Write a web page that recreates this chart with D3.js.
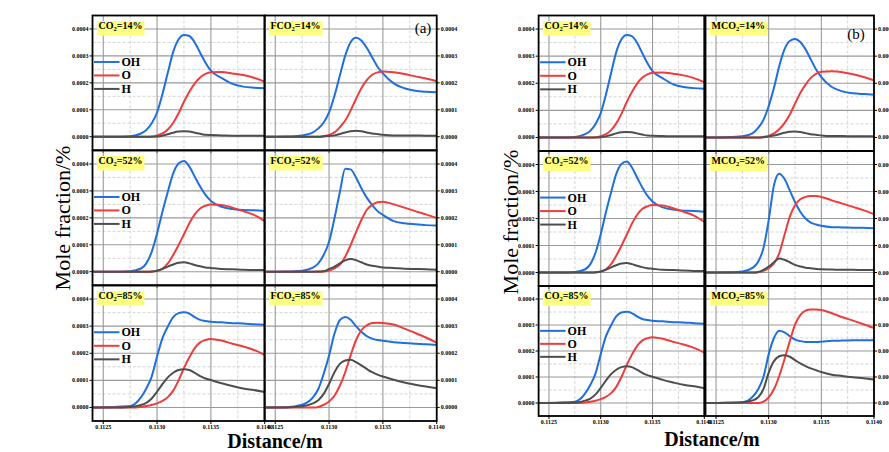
<!DOCTYPE html>
<html>
<head>
<meta charset="utf-8">
<script src="https://cdn.jsdelivr.net/npm/d3@7"></script>
<style>
  body { margin: 0; background: #fff; }
  svg { display: block; }
</style>
</head>
<body>
<svg id="chart" width="889" height="452"></svg>
<script>
(function () {

	// shared distance grid (m)
	var distance = [0.11240, 0.11260, 0.11275, 0.11285, 0.11290, 0.11295, 0.11300, 0.11305, 0.11310, 0.11315, 0.11320,
		0.11325, 0.11330, 0.11335, 0.11340, 0.11345, 0.11350, 0.11360, 0.11370, 0.11380, 0.11390, 0.11400];

	var species = ["OH", "O", "H"];
	var concentrations = ["14%", "52%", "85%"];
	var xTicks = [0.1125, 0.1130, 0.1135, 0.1140];
	var yTicks = [0.0000, 0.0001, 0.0002, 0.0003, 0.0004];

	// CO2 dilution
	var co2_14_OH = [0, 0, .000002, .000012, .000025, .000050, .000090, .000158, .000238, .000315, .000362, .000378, .000374, .000350, .000312, .000275, .000245, .000218, .000196, .000186, .000182, .000180];
	var co2_14_O  = [0, 0, 0, 0, 0, .000001, .000005, .000012, .000027, .000052, .000087, .000130, .000167, .000198, .000220, .000233, .000239, .000240, .000235, .000229, .000219, .000204];
	var co2_14_H  = [0, 0, 0, 0, 0, 0, .000001, .000004, .000009, .000015, .000019, .000020, .000019, .000015, .000011, .000007, .000006, .000005, .000004, .000004, .000004, .000004];

	var co2_52_OH = [0, 0, .000002, .000012, .000031, .000074, .000142, .000223, .000297, .000365, .000402, .000411, .000390, .000353, .000316, .000285, .000263, .000241, .000233, .000229, .000228, .000225];
	var co2_52_O  = [0, 0, 0, 0, 0, 0, .000004, .000012, .000031, .000062, .000099, .000139, .000180, .000213, .000235, .000245, .000250, .000248, .000238, .000225, .000211, .000188];
	var co2_52_H  = [0, 0, 0, 0, 0, .000001, .000004, .000010, .000019, .000027, .000033, .000035, .000031, .000025, .000020, .000016, .000014, .000010, .000009, .000007, .000006, .000006];

	var co2_85_OH = [0, .000002, .000005, .000037, .000070, .000114, .000188, .000256, .000299, .000333, .000348, .000351, .000346, .000333, .000323, .000319, .000316, .000314, .000311, .000310, .000307, .000305];
	var co2_85_O  = [0, 0, 0, .000002, .000005, .000009, .000015, .000024, .000038, .000062, .000100, .000145, .000185, .000219, .000240, .000249, .000253, .000247, .000235, .000225, .000212, .000194];
	var co2_85_H  = [0, 0, .000002, .000009, .000017, .000033, .000058, .000086, .000111, .000128, .000138, .000141, .000138, .000128, .000116, .000107, .000101, .000089, .000079, .000070, .000064, .000057];

	// FCO2 dilution
	var fco2_14_OH = [0, .000001, .000005, .000016, .000031, .000053, .000090, .000152, .000227, .000301, .000351, .000367, .000357, .000330, .000295, .000260, .000235, .000198, .000180, .000171, .000167, .000165];
	var fco2_14_O  = [0, 0, 0, 0, 0, .000003, .000007, .000016, .000035, .000060, .000097, .000140, .000180, .000210, .000230, .000239, .000242, .000239, .000233, .000224, .000216, .000206];
	var fco2_14_H  = [0, 0, 0, 0, 0, .000001, .000003, .000005, .000010, .000016, .000020, .000022, .000020, .000016, .000012, .000010, .000007, .000005, .000005, .000005, .000004, .000004];

	var fco2_52_OH = [0, .000001, .000004, .000015, .000031, .000062, .000111, .000198, .000295, .000382, .000380, .000350, .000310, .000275, .000248, .000225, .000211, .000188, .000180, .000176, .000173, .000172];
	var fco2_52_O  = [0, 0, 0, 0, 0, .000001, .000004, .000012, .000027, .000056, .000099, .000146, .000192, .000229, .000248, .000258, .000260, .000250, .000238, .000225, .000213, .000200];
	var fco2_52_H  = [0, 0, 0, 0, .000001, .000002, .000010, .000019, .000031, .000042, .000047, .000043, .000035, .000027, .000022, .000019, .000016, .000014, .000011, .000010, .000009, .000007];

	var fco2_85_OH = [0, .000001, .000010, .000037, .000068, .000124, .000192, .000272, .000322, .000334, .000324, .000300, .000279, .000263, .000254, .000249, .000246, .000241, .000238, .000235, .000233, .000230];
	var fco2_85_O  = [0, 0, 0, 0, .000002, .000010, .000022, .000043, .000080, .000130, .000192, .000248, .000285, .000303, .000312, .000313, .000312, .000306, .000291, .000275, .000258, .000239];
	var fco2_85_H  = [0, 0, .000004, .000015, .000027, .000050, .000087, .000130, .000161, .000173, .000176, .000167, .000155, .000142, .000130, .000121, .000114, .000102, .000092, .000084, .000077, .000071];

	// MCO2 dilution
	var mco2_14_OH = [0, .000001, .000004, .000016, .000035, .000065, .000115, .000183, .000263, .000325, .000356, .000363, .000352, .000325, .000288, .000251, .000223, .000186, .000170, .000163, .000160, .000158];
	var mco2_14_O  = [0, 0, 0, 0, 0, .000002, .000006, .000015, .000030, .000053, .000084, .000125, .000164, .000195, .000220, .000235, .000242, .000244, .000241, .000233, .000223, .000211];
	var mco2_14_H  = [0, 0, 0, 0, 0, .000001, .000004, .000007, .000012, .000017, .000021, .000022, .000020, .000016, .000012, .000010, .000007, .000005, .000005, .000004, .000004, .000004];

	var mco2_52_OH = [0, .000001, .000004, .000018, .000040, .000090, .000194, .000323, .000366, .000347, .000304, .000261, .000225, .000200, .000185, .000178, .000173, .000168, .000167, .000166, .000166, .000164];
	var mco2_52_O  = [0, 0, 0, 0, .000001, .000006, .000016, .000034, .000071, .000139, .000206, .000249, .000271, .000280, .000283, .000283, .000280, .000267, .000255, .000243, .000231, .000216];
	var mco2_52_H  = [0, 0, 0, 0, .000002, .000010, .000022, .000038, .000052, .000047, .000038, .000028, .000022, .000018, .000016, .000013, .000012, .000011, .000010, .000010, .000009, .000009];

	var mco2_85_OH = [0, .000001, .000003, .000025, .000053, .000100, .000187, .000250, .000278, .000272, .000257, .000244, .000238, .000235, .000235, .000235, .000236, .000239, .000240, .000241, .000241, .000241];
	var mco2_85_O  = [0, 0, 0, 0, 0, .000005, .000022, .000053, .000104, .000168, .000237, .000301, .000338, .000355, .000360, .000360, .000358, .000345, .000330, .000317, .000303, .000288];
	var mco2_85_H  = [0, .000001, .000003, .000010, .000022, .000053, .000117, .000161, .000180, .000184, .000178, .000165, .000152, .000142, .000133, .000126, .000119, .000109, .000104, .000099, .000095, .000090];

	var co2Sets  = [[co2_14_OH, co2_14_O, co2_14_H], [co2_52_OH, co2_52_O, co2_52_H], [co2_85_OH, co2_85_O, co2_85_H]];
	var fco2Sets = [[fco2_14_OH, fco2_14_O, fco2_14_H], [fco2_52_OH, fco2_52_O, fco2_52_H], [fco2_85_OH, fco2_85_O, fco2_85_H]];
	var mco2Sets = [[mco2_14_OH, mco2_14_O, mco2_14_H], [mco2_52_OH, mco2_52_O, mco2_52_H], [mco2_85_OH, mco2_85_O, mco2_85_H]];

	var colors = ["#1f6fe0", "#f03c3c", "#4e4e4e"];
	var serif = "'Times New Roman', 'Liberation Serif', serif";

	var panels = [
		{
			tag: "(a)", tagX: 423, tagY: 33,
			yTitle: [62, 218], xTitle: [275, 448],
			rows: [[15.5, 150.2], [150.5, 285.2], [285.5, 421]],
			cols: [
				{ x0: 92.5, x1: 264.7, prefix: "", sets: co2Sets, side: "left" },
				{ x0: 264.5, x1: 436.7, prefix: "F", sets: fco2Sets, side: "right" }
			]
		},
		{
			tag: "(b)", tagX: 856, tagY: 39,
			yTitle: [510, 222], xTitle: [712, 446],
			rows: [[15.5, 151], [151, 286], [286, 416]],
			cols: [
				{ x0: 538.6, x1: 704.3, prefix: "", sets: co2Sets, side: "left" },
				{ x0: 705.5, x1: 874, prefix: "M", sets: mco2Sets, side: "right" }
			]
		}
	];

	var svg = d3.select("#chart");
	var defs = svg.append("defs");
	var clipCount = 0;

	function drawSubplot(box, values, col, pct, isBottom) {
		var x = d3.scaleLinear().domain([0.1124, 0.1140]).range([box.x0, box.x1]);
		var y = d3.scaleLinear().domain([-0.00005, 0.00045]).range([box.y1, box.y0]);
		var g = svg.append("g");

		var id = "clip" + (clipCount++);
		defs.append("clipPath").attr("id", id)
			.append("rect")
			.attr("x", box.x0).attr("y", box.y0)
			.attr("width", box.x1 - box.x0).attr("height", box.y1 - box.y0);

		// minor grid
		var minorX = [0.11275, 0.11325, 0.11375];
		var minorY = [0.00005, 0.00015, 0.00025, 0.00035];
		g.selectAll(".mgx").data(minorX).enter().append("line")
			.attr("x1", x).attr("x2", x).attr("y1", box.y0).attr("y2", box.y1)
			.attr("stroke", "#cfcfcf").attr("stroke-width", 0.9).attr("stroke-dasharray", "3,2");
		g.selectAll(".mgy").data(minorY).enter().append("line")
			.attr("x1", box.x0).attr("x2", box.x1).attr("y1", y).attr("y2", y)
			.attr("stroke", "#cfcfcf").attr("stroke-width", 0.9).attr("stroke-dasharray", "3,2");

		// major grid
		g.selectAll(".gx").data(xTicks).enter().append("line")
			.attr("x1", x).attr("x2", x).attr("y1", box.y0).attr("y2", box.y1)
			.attr("stroke", "#9a9a9a").attr("stroke-width", 1.1);
		g.selectAll(".gy").data(yTicks).enter().append("line")
			.attr("x1", box.x0).attr("x2", box.x1).attr("y1", y).attr("y2", y)
			.attr("stroke", "#9a9a9a").attr("stroke-width", 1.1);

		// curves
		var line = d3.line()
			.x(function (d) { return x(d[0]); })
			.y(function (d) { return y(d[1]); })
			.curve(d3.curveMonotoneX);

		var curves = g.append("g").attr("clip-path", "url(#" + id + ")");
		values.forEach(function (arr, i) {
			curves.append("path")
				.datum(d3.zip(distance, arr))
				.attr("d", line)
				.attr("fill", "none")
				.attr("stroke", colors[i])
				.attr("stroke-width", 2);
		});

		// frame
		g.append("rect")
			.attr("x", box.x0).attr("y", box.y0)
			.attr("width", box.x1 - box.x0).attr("height", box.y1 - box.y0)
			.attr("fill", "none").attr("stroke", "#000").attr("stroke-width", 1.8);

		// ticks
		var tickX = col.side === "left" ? box.x0 : box.x1;
		var dir = col.side === "left" ? -1 : 1;
		g.selectAll(".ty").data(yTicks).enter().append("line")
			.attr("x1", tickX).attr("x2", tickX + dir * 3)
			.attr("y1", y).attr("y2", y)
			.attr("stroke", "#000").attr("stroke-width", 1);
		g.selectAll(".tyl").data(yTicks).enter().append("text")
			.attr("x", tickX + dir * 4)
			.attr("y", y)
			.attr("dominant-baseline", "central")
			.attr("text-anchor", col.side === "left" ? "end" : "start")
			.attr("font-family", serif).attr("font-weight", "bold").attr("font-size", 6)
			.text(d3.format(".4f"));

		g.selectAll(".tx").data(xTicks).enter().append("line")
			.attr("x1", x).attr("x2", x)
			.attr("y1", box.y1).attr("y2", box.y1 + 3)
			.attr("stroke", "#000").attr("stroke-width", 1);

		if (isBottom) {
			g.selectAll(".txl").data(xTicks).enter().append("text")
				.attr("x", x)
				.attr("y", box.y1 + 5.5)
				.attr("dominant-baseline", "central")
				.attr("text-anchor", "middle")
				.attr("font-family", serif).attr("font-weight", "bold").attr("font-size", 6)
				.text(d3.format(".4f"));
		}

		// case label with yellow box
		var lab = g.append("g");
		var bg = lab.append("rect").attr("fill", "#ffff80");
		var t = lab.append("text")
			.attr("x", box.x0 + 6)
			.attr("y", box.y0 + 13)
			.attr("font-family", serif).attr("font-weight", "bold").attr("font-size", 10);
		t.append("tspan").text(col.prefix + "CO");
		t.append("tspan").attr("font-size", 6.5).attr("dy", 2).text("2");
		t.append("tspan").attr("dy", -2).text("=" + pct);
		var w = t.node().getComputedTextLength();
		bg.attr("x", box.x0 + 4.5).attr("y", box.y0 + 5.5)
			.attr("width", w + 3.5).attr("height", 14.5);

		// legend
		if (col.side === "left") {
			var h = box.y1 - box.y0;
			species.forEach(function (s, i) {
				var ly = box.y0 + h * (0.345 + 0.1 * i);
				g.append("line")
					.attr("x1", box.x0 + 1.5).attr("x2", box.x0 + 27)
					.attr("y1", ly).attr("y2", ly)
					.attr("stroke", colors[i]).attr("stroke-width", 2);
				g.append("text")
					.attr("x", box.x0 + 29)
					.attr("y", ly)
					.attr("dominant-baseline", "central")
					.attr("font-family", serif).attr("font-weight", "bold").attr("font-size", 12)
					.text(s);
			});
		}
	}

	panels.forEach(function (p) {
		p.cols.forEach(function (col) {
			p.rows.forEach(function (r, ri) {
				var box = { x0: col.x0, x1: col.x1, y0: r[0], y1: r[1] };
				drawSubplot(box, col.sets[ri], col, concentrations[ri], ri === p.rows.length - 1);
			});
		});

		svg.append("text")
			.attr("x", p.tagX).attr("y", p.tagY)
			.attr("text-anchor", "middle")
			.attr("font-family", serif).attr("font-size", 15)
			.text(p.tag);

		svg.append("text")
			.attr("transform", "translate(" + p.yTitle[0] + "," + p.yTitle[1] + ") rotate(-90)")
			.attr("text-anchor", "middle")
			.attr("dominant-baseline", "central")
			.attr("font-family", serif).attr("font-size", 22)
			.text("Mole fraction/%");

		svg.append("text")
			.attr("x", p.xTitle[0]).attr("y", p.xTitle[1])
			.attr("text-anchor", "middle")
			.attr("font-family", serif).attr("font-weight", "bold").attr("font-size", 20)
			.text("Distance/m");
	});

})();
</script>
</body>
</html>
